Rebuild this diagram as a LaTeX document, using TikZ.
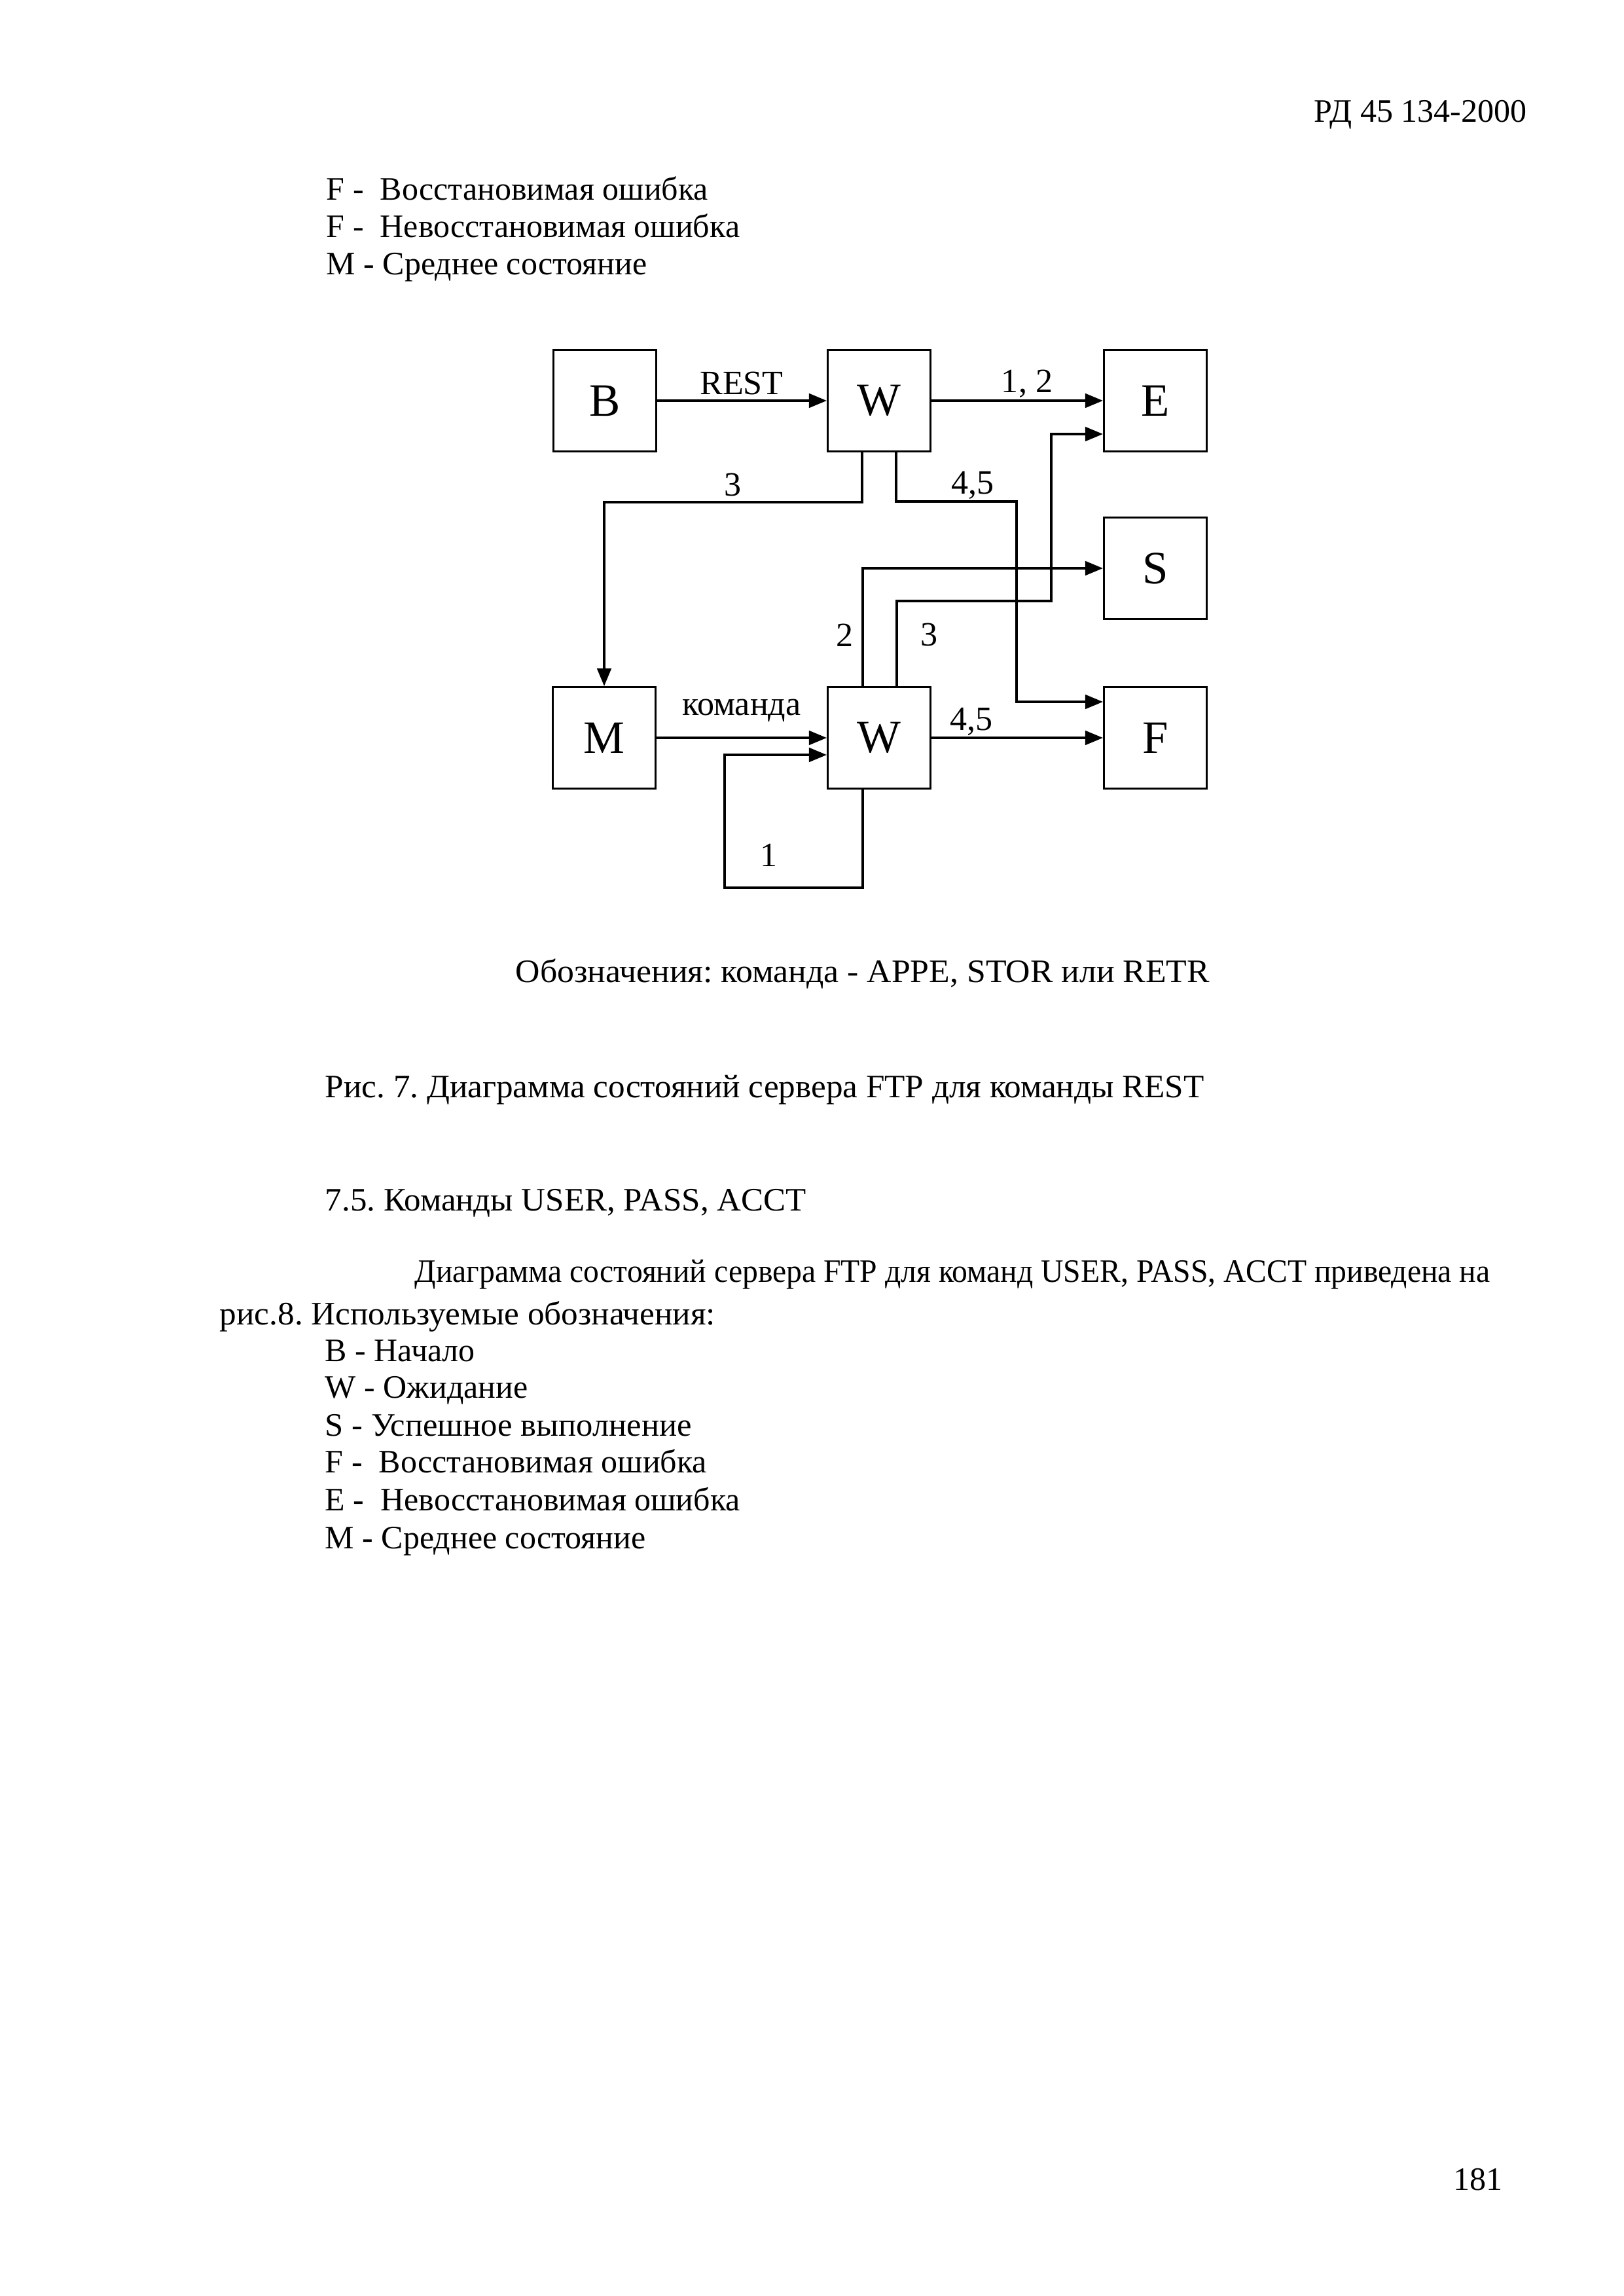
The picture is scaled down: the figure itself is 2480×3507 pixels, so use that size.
\documentclass[tikz,border=0pt]{standalone}
\usepackage{fontspec}
\usepackage{graphicx}
\setmainfont{Liberation Serif}
\usetikzlibrary{arrows.meta}
\frenchspacing
\begin{document}
\begin{tikzpicture}[x=0.24pt,y=-0.24pt,
  box/.style={draw, line width=0.75pt, minimum width=37.7pt, minimum height=37.2pt, inner sep=0pt, font=\fontsize{17}{17}\selectfont},
  conn/.style={line width=0.75pt, -{Triangle[length=6.5pt,width=5.2pt]}},
  lbl/.style={font=\fontsize{12.5}{14}\selectfont, inner sep=0pt, anchor=base},
  txt/.style={font=\fontsize{12}{14}\selectfont, inner sep=0pt, anchor=base west}
]
\useasboundingbox (0,0) rectangle (2480,3507);

% header and page number
\node[txt, anchor=base east] (hdr) at (2333,187) {РД 45 134-2000};
\node[txt] (pg) at (2220,3345) {181};

% top legend
\node[txt] (t1) at (498,306) {F -~ Восстановимая ошибка};
\node[txt] (t2) at (498,363) {F -~ Невосстановимая ошибка};
\node[txt] (t3) at (498,420) {M - Среднее состояние};

% boxes
\node[box] (B)  at (924,612)  {B};
\node[box] (W1) at (1343,612) {W};
\node[box] (E)  at (1765,612) {E};
\node[box] (S)  at (1765,868) {S};
\node[box] (M)  at (923,1127) {M};
\node[box] (W2) at (1343,1127) {W};
\node[box] (F)  at (1765,1127) {F};

% helper coordinates
\coordinate (p3) at (1317,767);
\coordinate (q1) at (1369,766);
\coordinate (q2) at (1553,1072);
\coordinate (r1) at (1318,868);
\coordinate (s1) at (1370,918);
\coordinate (s2) at (1606,663);
\coordinate (u1) at (1318,1356);
\coordinate (u2) at (1107,1153);

% connectors
\draw[conn] (B.east) -- (W1.west);
\draw[conn] (W1.east) -- (E.west);
\draw[conn] (W1.south -| p3) -- (p3) -- (p3 -| M.north) -- (M.north);
\draw[conn] (W1.south -| q1) -- (q1) -- (q1 -| q2) -- (q2) -- (q2 -| F.west);
\draw[conn] (W2.north -| r1) -- (r1) -- (S.west);
\draw[conn] (W2.north -| s1) -- (s1) -- (s1 -| s2) -- (s2) -- (s2 -| E.west);
\draw[conn] (M.east) -- (W2.west);
\draw[conn] (W2.east) -- (F.west);
\draw[conn] (W2.south -| u1) -- (u1) -- (u1 -| u2) -- (u2) -- (u2 -| W2.west);

% connector labels
\node[lbl] (lREST) at (1133,603) {REST};
\node[lbl] (l12) at (1569,600) {1, 2};
\node[lbl] (l3a) at (1120,758) {3};
\node[lbl] (l45a) at (1486,755) {4,5};
\node[lbl] (lcmd) at (1133,1093) {команда};
\node[lbl] (l2) at (1290,988) {2};
\node[lbl] (l3b) at (1419,987) {3};
\node[lbl] (l45b) at (1484,1115) {4,5};
\node[lbl] (l1) at (1174,1323) {1};

% text below
\node[txt] (leg) at (787,1500) {\scalebox{1.035}[1]{Обозначения: команда - APPE, STOR или RETR}};
\node[txt] (cap) at (496,1676) {\scalebox{1.024}[1]{Рис. 7. Диаграмма состояний сервера FTP для команды REST}};
\node[txt] (sec) at (496,1849) {\scalebox{1.02}[1]{7.5. Команды USER, PASS, ACCT}};
\node[txt] (par1) at (633,1958) {\scalebox{0.953}[1]{Диаграмма состояний сервера FTP для команд USER, PASS, ACCT приведена на}};
\node[txt] (par2) at (335,2023) {\scalebox{1.025}[1]{рис.8. Используемые обозначения:}};
\node[txt] (b1) at (496,2079) {B - Начало};
\node[txt] (b2) at (496,2135) {W - Ожидание};
\node[txt] (b3) at (496,2193) {\scalebox{1.012}[1]{S - Успешное выполнение}};
\node[txt] (b4) at (496,2249) {F -~ Восстановимая ошибка};
\node[txt] (b5) at (496,2307) {E -~ Невосстановимая ошибка};
\node[txt] (b6) at (496,2365) {M - Среднее состояние};
\end{tikzpicture}
\end{document}
